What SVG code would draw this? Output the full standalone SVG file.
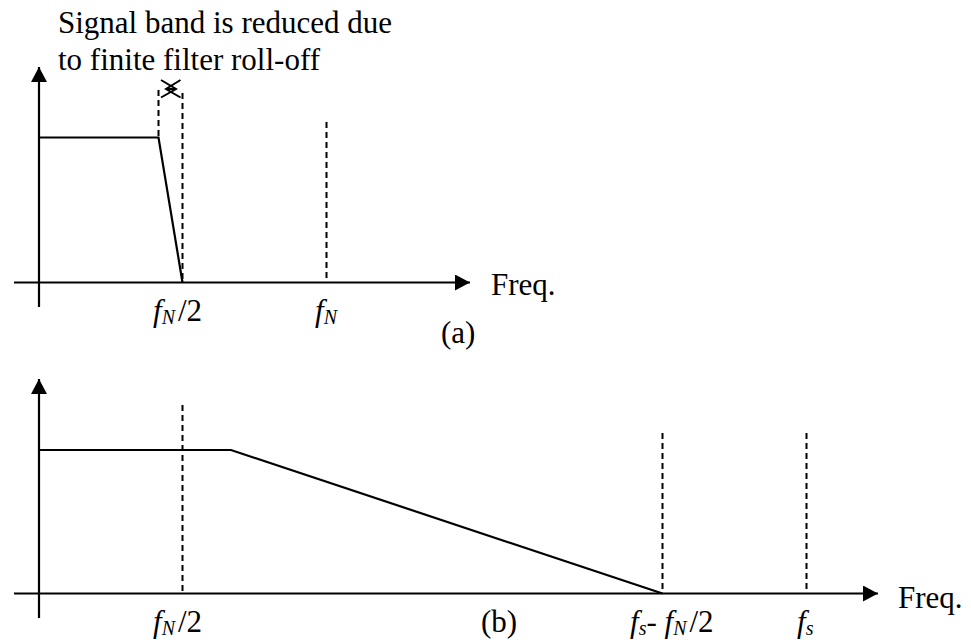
<svg xmlns="http://www.w3.org/2000/svg" width="971" height="643" viewBox="0 0 971 643">
<style>
  .ax{stroke:#000;stroke-width:2.2;fill:none}
  .dash{stroke:#000;stroke-width:2;fill:none;stroke-dasharray:6 4}
  .sig{stroke:#000;stroke-width:2.2;fill:none}
  text{font-family:"Liberation Serif","Times New Roman",serif;fill:#000;font-size:31px}
  .it{font-style:italic}
  .sub{font-style:italic;font-size:20px}
</style>
<defs>
  <marker id="ah" viewBox="0 0 15 16" refX="15" refY="8" markerWidth="15" markerHeight="16" markerUnits="userSpaceOnUse" orient="auto">
    <path d="M0,0 L15,8 L0,16 Z" fill="#000"/>
  </marker>
</defs>
<rect width="971" height="643" fill="#fff"/>
<g id="panel-a">
  <text x="58" y="33">Signal band is reduced due</text>
  <text x="58" y="70">to finite filter roll-off</text>
  <line class="ax" x1="39" y1="307" x2="39" y2="67" marker-end="url(#ah)"/>
  <line class="ax" x1="14" y1="282.5" x2="470" y2="282.5" marker-end="url(#ah)"/>
  <polyline class="sig" points="39,137.5 158.5,137.5 182.5,282.5"/>
  <line class="dash" x1="158.5" y1="90" x2="158.5" y2="137"/>
  <line class="dash" x1="182.5" y1="93" x2="182.5" y2="282"/>
  <line class="dash" x1="326.5" y1="122" x2="326.5" y2="282"/>
  <g id="roll-off-marker" stroke="#000" stroke-width="2" fill="none">
    <line x1="166" y1="89" x2="176" y2="89"/>
    <polyline points="180.5,80 166,89 180.5,97.5"/>
    <polyline points="161,80 176,89 161,97.5"/>
  </g>
  <text x="153" y="321"><tspan class="it">f</tspan><tspan class="sub" dy="3">N</tspan><tspan dy="-3" dx="3">/2</tspan></text>
  <text x="315" y="321"><tspan class="it">f</tspan><tspan class="sub" dy="3">N</tspan></text>
  <text x="491" y="295">Freq.</text>
  <text x="441" y="343">(a)</text>
</g>
<g id="panel-b">
  <line class="ax" x1="39" y1="618" x2="39" y2="379" marker-end="url(#ah)"/>
  <line class="ax" x1="14" y1="593.5" x2="878" y2="593.5" marker-end="url(#ah)"/>
  <polyline class="sig" points="39,450 231,450 662.5,593.5"/>
  <line class="dash" x1="182.5" y1="405" x2="182.5" y2="593"/>
  <line class="dash" x1="662.5" y1="433" x2="662.5" y2="593"/>
  <line class="dash" x1="806.5" y1="433" x2="806.5" y2="593"/>
  <text x="153" y="632"><tspan class="it">f</tspan><tspan class="sub" dy="3">N</tspan><tspan dy="-3" dx="3">/2</tspan></text>
  <text x="481" y="632">(b)</text>
  <text x="630" y="632"><tspan class="it">f</tspan><tspan class="sub" dy="3">s</tspan><tspan dy="-3">- </tspan><tspan class="it">f</tspan><tspan class="sub" dy="3">N</tspan><tspan dy="-3" dx="3">/2</tspan></text>
  <text x="797" y="632"><tspan class="it">f</tspan><tspan class="sub" dy="3">s</tspan></text>
  <text x="898" y="608">Freq.</text>
</g>
</svg>
